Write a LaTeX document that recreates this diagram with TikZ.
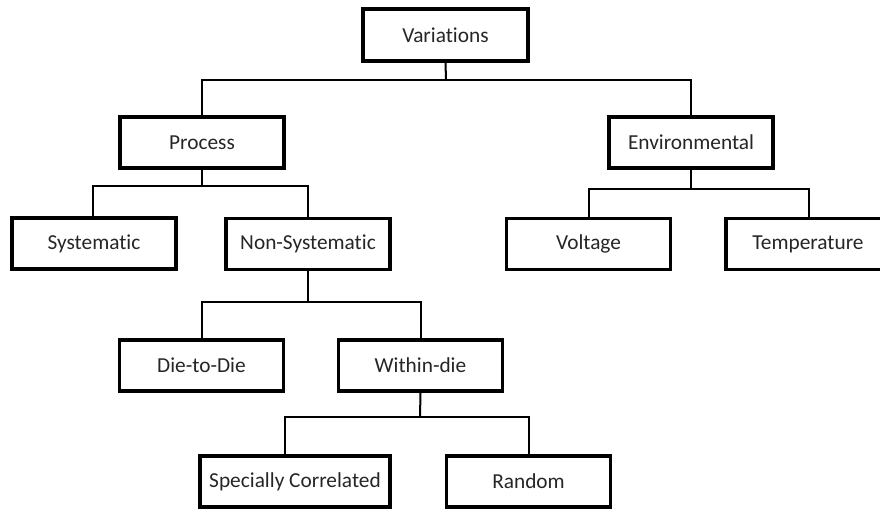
\documentclass[tikz,border=0pt]{standalone}
\usepackage{fontspec}
\setmainfont[Ligatures=NoCommon]{Carlito}
\begin{document}
\begin{tikzpicture}[x=0.75pt,y=-0.75pt,
  box/.style={draw=black,line width=2.4pt,rectangle,inner sep=0pt,
    minimum width=123pt,minimum height=38.25pt,text=black!85,
    font=\fontsize{16}{19}\selectfont},
  link/.style={draw=black,line width=1.5pt}]
\clip (0,0) rectangle (880,508);
\fill[white] (0,0) rectangle (880,508);

% level 0
\node[box,minimum width=123.75pt,minimum height=39pt] (var) at (445.5,35) {Variations};
% level 1
\node[box] (proc) at (202,142.5) {Process};
\node[box] (env)  at (691,142.5) {Environmental};
% level 2
\node[box] (sys)    at (94,243.5)  {Systematic};
\node[box] (nonsys) at (308,244)   {Non-Systematic};
\node[box] (volt)   at (588.5,244) {Voltage};
\node[box] (temp)   at (808,244)   {Temperature};
% level 3
\node[box] (d2d)    at (201.5,365.5) {Die-to-Die};
\node[box] (within) at (420.5,365.5) {Within-die};
% level 4
\node[box,minimum width=142.5pt] (spc) at (295,481.5) {Specially Correlated};
\node[box] (rnd) at (528.5,481.5) {Random};

% branch points
\coordinate (j0) at (446,80);
\coordinate (j1) at (202,186);
\coordinate (j2) at (691,189);
\coordinate (j3) at (308,302);
\coordinate (j4) at (420,417);
\coordinate (spcin) at (285,456);

\draw[link] (var.south) -- (j0);
\draw[link] (proc.north) |- (j0) -| (env.north);

\draw[link] (proc.south) -- (j1);
\draw[link] ([xshift=-0.75pt]sys.north) |- (j1) -| (nonsys.north);

\draw[link] (env.south) -- (j2);
\draw[link] (volt.north) |- (j2) -| ([xshift=0.75pt]temp.north);

\draw[link] (nonsys.south) -- (j3);
\draw[link] (d2d.north) |- (j3) -| (within.north);

\draw[link] (within.south) -- (j4);
\draw[link] (spcin) |- (j4) -| (rnd.north);
\end{tikzpicture}
\end{document}
